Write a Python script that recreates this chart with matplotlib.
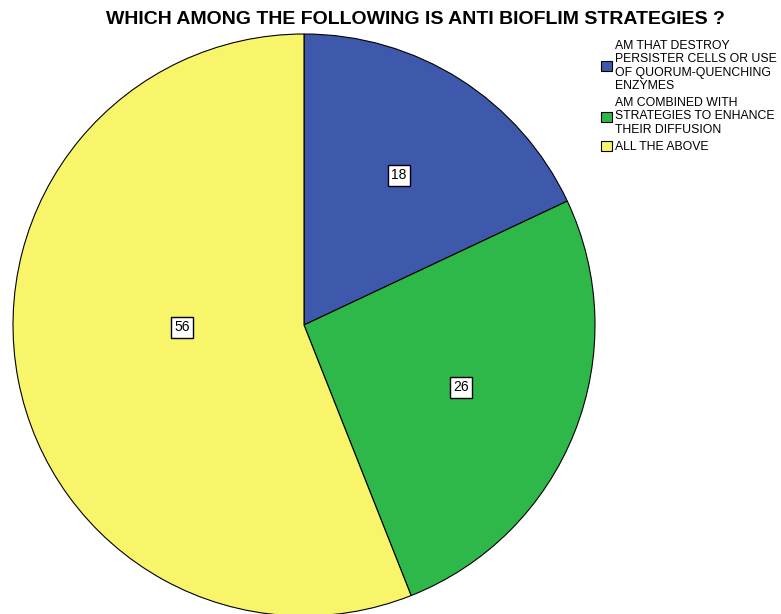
import matplotlib.pyplot as plt
import numpy as np

plt.rcParams['font.family'] = ['Liberation Sans', 'DejaVu Sans']

labels = ['AM THAT DESTROY\nPERSISTER CELLS OR USE\nOF QUORUM-QUENCHING\nENZYMES',
          'AM COMBINED WITH\nSTRATEGIES TO ENHANCE\nTHEIR DIFFUSION',
          'ALL THE ABOVE']
values = [18, 26, 56]
colors = ['#3e58ac', '#2eb84a', '#f8f56a']
label_dist = [0.61, 0.58, 0.42]

fig = plt.figure(figsize=(7.81, 6.14), dpi=100)
ax = fig.add_axes([13 / 781, -2 / 614, 582 / 781, 582 / 614])

wedges, _ = ax.pie(values, colors=colors, startangle=90, counterclock=False,
                   radius=1, wedgeprops=dict(edgecolor='black', linewidth=0.8))
for w in wedges:
    w.set_clip_on(False)
ax.set_xlim(-1, 1)
ax.set_ylim(-1, 1)
ax.set_aspect('equal')
ax.axis('off')

# value boxes inside each slice
for w, v, d in zip(wedges, values, label_dist):
    ang = np.deg2rad((w.theta1 + w.theta2) / 2)
    if v == 56:
        ang = np.deg2rad(181)
    ax.text(d * np.cos(ang), d * np.sin(ang), str(v), ha='center', va='center',
            fontsize=10, bbox=dict(boxstyle='square,pad=0.25', fc='white', ec='black', lw=1))

fig.text(415 / 781, 1 - 19 / 614, 'WHICH AMONG THE FOLLOWING IS ANTI BIOFLIM STRATEGIES ?',
         ha='center', va='center', fontsize=14, fontweight='bold')

leg = fig.legend(wedges, labels, loc='upper left', bbox_to_anchor=(595 / 781, 1 - 34 / 614),
                 frameon=False, fontsize=8.8, handlelength=0.9, handleheight=0.9,
                 handletextpad=0.2, labelspacing=0.4, borderpad=0)
for t in leg.get_texts():
    t.set_linespacing(1.15)

fig.savefig('out.png', dpi=100)
